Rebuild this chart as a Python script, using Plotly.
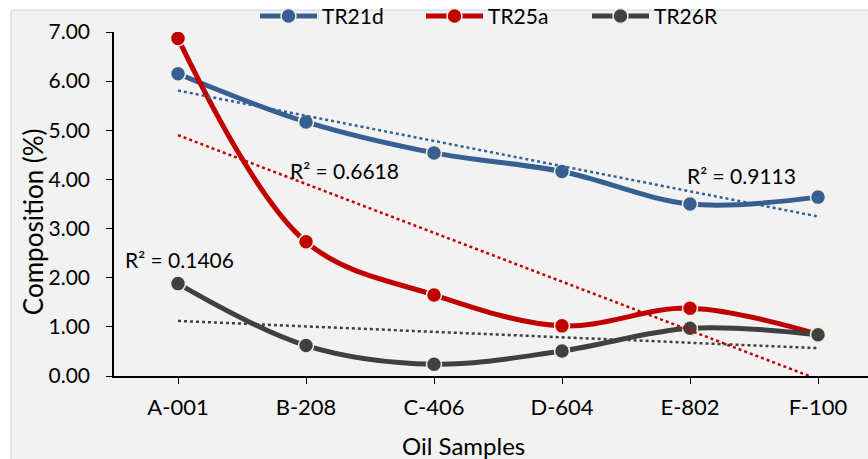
import plotly.graph_objects as go
import numpy as np

samples = ["A-001", "B-208", "C-406", "D-604", "E-802", "F-100"]
tr21d = [6.15, 5.17, 4.54, 4.16, 3.50, 3.64]
tr25a = [6.87, 2.73, 1.65, 1.02, 1.38, 0.85]
tr26r = [1.88, 0.62, 0.24, 0.51, 0.97, 0.84]
series_names = ["TR21d", "TR25a", "TR26R"]
colors = ["#376092", "#c00000", "#404040"]
r2_labels = ["R\u00b2 = 0.9113", "R\u00b2 = 0.6618", "R\u00b2 = 0.1406"]
r2_pos = [(4.40, 4.09), (1.30, 4.19), (0.01, 2.38)]
yticks = [0, 1, 2, 3, 4, 5, 6, 7]

FONT = "Lato"
L, T, B = 114, 31.7, 83
W, H = 868, 459
PW = W - L
PH = H - T - B

fig = go.Figure()
xs = np.arange(len(samples))
for name, vals, col in zip(series_names, [tr21d, tr25a, tr26r], colors):
    fig.add_trace(go.Scatter(
        x=xs, y=vals, mode="lines+markers", name=name,
        line=dict(color=col, width=5, shape="spline", smoothing=1.0),
        marker=dict(size=15, color=col, line=dict(color="#f3efdc", width=1.5)),
    ))
for name, vals, col in zip(series_names, [tr21d, tr25a, tr26r], colors):
    k, b = np.polyfit(xs, vals, 1)
    fig.add_trace(go.Scatter(
        x=xs, y=k * xs + b, mode="lines", showlegend=False,
        line=dict(color=col, width=2.5, dash="dot"), hoverinfo="skip",
    ))

for txt, (ax, ay) in zip(r2_labels, r2_pos):
    fig.add_annotation(x=ax, y=ay, text=txt, showarrow=False,
                       xanchor="center", yanchor="middle",
                       font=dict(family=FONT, size=21, color="#000000"))

def px_x(x):
    return (x - L) / PW

def px_y(y):
    return (H - B - y) / PH

fig.add_annotation(xref="paper", yref="paper", x=px_x(463), y=px_y(446),
                   text="Oil Samples", showarrow=False,
                   xanchor="center", yanchor="middle",
                   font=dict(family=FONT, size=24, color="#000000"))
fig.add_annotation(xref="paper", yref="paper", x=px_x(33), y=px_y(222),
                   text="Composition (%)", showarrow=False, textangle=-90,
                   xanchor="center", yanchor="middle",
                   font=dict(family=FONT, size=26, color="#000000"))

fig.add_shape(type="rect", xref="paper", yref="paper",
              x0=px_x(11), x1=px_x(900), y0=px_y(500), y1=px_y(10),
              fillcolor="#f2f2f2", line=dict(color="#d5dfef", width=1.5),
              layer="below")

fig.update_layout(
    width=W, height=H,
    margin=dict(l=L, r=0, t=T, b=B, autoexpand=False),
    paper_bgcolor="#ffffff", plot_bgcolor="rgba(0,0,0,0)",
    font=dict(family=FONT, size=21, color="#000000"),
    legend=dict(orientation="h", x=px_x(255), y=px_y(16), xanchor="left", yanchor="middle",
                entrywidth=94, entrywidthmode="pixels", itemwidth=57,
                font=dict(family=FONT, size=21), bgcolor="rgba(0,0,0,0)"),
    xaxis=dict(range=[-0.5, (W - 178) / 128], tickvals=list(xs), ticktext=samples,
               showline=True, linecolor="#000000", linewidth=1.5,
               ticks="outside", ticklen=6, tickcolor="#000000", showgrid=False,
               zeroline=False, ticklabelstandoff=5, tickfont=dict(family=FONT, size=22)),
    yaxis=dict(range=[0, 7], tickvals=yticks, tickformat=".2f",
               showline=True, linecolor="#000000", linewidth=1.5,
               ticks="outside", ticklen=6, tickcolor="#000000", showgrid=False,
               zeroline=False, ticklabelstandoff=12, tickfont=dict(family=FONT, size=21)),
)

fig.write_html("out.html")
